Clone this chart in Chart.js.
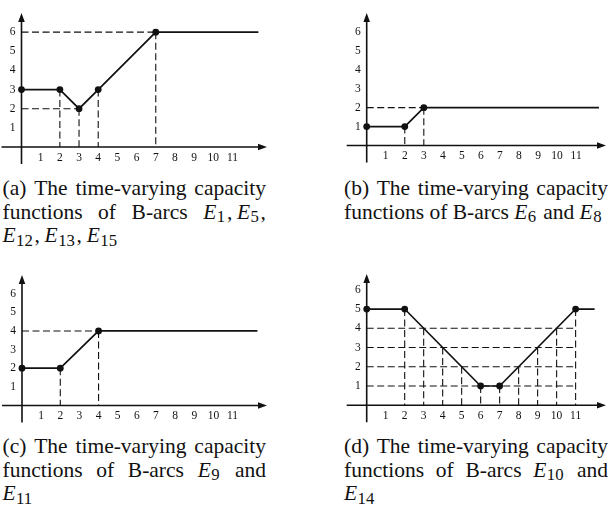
<!DOCTYPE html>
<html>
<head>
<meta charset="utf-8">
<script src="https://cdn.jsdelivr.net/npm/chart.js@4.4.1/dist/chart.umd.min.js"></script>
<style>
  html, body { margin: 0; padding: 0; background: #fff; }
  #page { position: relative; width: 610px; height: 509px; overflow: hidden; background: #fff; }
  canvas.panel { position: absolute; }
  .caption {
    position: absolute;
    font-family: "Liberation Serif", "Times New Roman", serif;
    font-size: 21.5px;
    line-height: 23.5px;
    color: #111;
  }
  .caption .jl { display: flex; justify-content: space-between; column-gap: 0.2em; white-space: nowrap; }
  .caption .ll { white-space: nowrap; }
  .caption i { font-style: italic; padding-right: 0.02em; }
  .caption sub { font-size: 0.78em; vertical-align: -0.22em; line-height: 0; padding-right: 0.1em; }
  .caption .c { padding-right: 0.22em; }
</style>
</head>
<body>
<div id="page">
  <canvas id="chart-a" class="panel"></canvas>
  <canvas id="chart-b" class="panel"></canvas>
  <canvas id="chart-c" class="panel"></canvas>
  <canvas id="chart-d" class="panel"></canvas>

  <div class="caption" style="left:2.5px; top:177px; width:263.5px">
    <div class="jl"><span>(a)</span><span>The</span><span>time-varying</span><span>capacity</span></div>
    <div class="jl"><span>functions</span><span>of</span><span>B-arcs</span><span><i>E</i><sub>1</sub><span class="c">,</span><i>E</i><sub>5</sub>,</span></div>
    <div class="ll"><i>E</i><sub>12</sub><span class="c">,</span><i>E</i><sub>13</sub><span class="c">,</span><i>E</i><sub>15</sub></div>
  </div>
  <div class="caption" style="left:344px; top:177px; width:264px">
    <div class="jl"><span>(b)</span><span>The</span><span>time-varying</span><span>capacity</span></div>
    <div class="ll">functions of B-arcs <i>E</i><sub>6</sub> and <i>E</i><sub>8</sub></div>
  </div>
  <div class="caption" style="left:2.5px; top:435px; width:263.5px">
    <div class="jl"><span>(c)</span><span>The</span><span>time-varying</span><span>capacity</span></div>
    <div class="jl"><span>functions</span><span>of</span><span>B-arcs</span><span><i>E</i><sub>9</sub></span><span>and</span></div>
    <div class="ll"><i>E</i><sub>11</sub></div>
  </div>
  <div class="caption" style="left:344px; top:435px; width:264px">
    <div class="jl"><span>(d)</span><span>The</span><span>time-varying</span><span>capacity</span></div>
    <div class="jl"><span>functions</span><span>of</span><span>B-arcs</span><span><i>E</i><sub>10</sub></span><span>and</span></div>
    <div class="ll"><i>E</i><sub>14</sub></div>
  </div>
</div>

<script>
// --- capacity functions: breakpoints (time, capacity); the last point is where the drawn line stops ---
const aTimes = [0, 2, 3, 4, 7, 12.35];
const aCaps = [3, 3, 2, 3, 6, 6];
const aDropTimes = [2, 3, 4, 7];
const aDropCaps = [3, 2, 3, 6];
const aLevelCaps = [6, 2];
const aLevelEnds = [7, 3];

const bTimes = [0, 2, 3, 12.2];
const bCaps = [1, 1, 2, 2];
const bDropTimes = [2, 3];
const bDropCaps = [1, 2];
const bLevelCaps = [2];
const bLevelEnds = [3];

const cTimes = [0, 2, 4, 12.3];
const cCaps = [2, 2, 4, 4];
const cDropTimes = [2, 4];
const cDropCaps = [2, 4];
const cLevelCaps = [4];
const cLevelEnds = [4];

const dTimes = [0, 2, 6, 7, 11, 12];
const dCaps = [5, 5, 1, 1, 5, 5];
const dDropTimes = [2, 3, 4, 5, 6, 7, 8, 9, 10, 11];
const dDropCaps = [5, 4, 3, 2, 1, 1, 2, 3, 4, 5];
const dLevelCaps = [4, 3, 2, 1];
const dLevelEnds = [11, 11, 11, 11];

// tick labels shared by all four plots
const timeTicks = [1, 2, 3, 4, 5, 6, 7, 8, 9, 10, 11];
const capTicks = [1, 2, 3, 4, 5, 6];

const ink = '#111';
const tickFont = { family: '"Liberation Serif", "Times New Roman", serif', size: 11.5 };

/** Draws both axes through the origin, with a short overhang and arrow heads. */
const arrowAxes = {
    id: 'arrowAxes',
    beforeDatasetsDraw(chart) {
        const { ctx, chartArea: area, scales: { x, y } } = chart;
        const x0 = x.getPixelForValue(0);
        const y0 = y.getPixelForValue(0);
        ctx.save();
        ctx.strokeStyle = ink;
        ctx.fillStyle = ink;
        ctx.lineWidth = 1.6;
        ctx.beginPath();
        ctx.moveTo(x0 - 20, y0);
        ctx.lineTo(area.right - 5, y0);
        ctx.moveTo(x0, y0 + 17);
        ctx.lineTo(x0, area.top + 5);
        ctx.stroke();
        ctx.beginPath();
        ctx.moveTo(area.right, y0);
        ctx.lineTo(area.right - 9, y0 - 3.3);
        ctx.lineTo(area.right - 9, y0 + 3.3);
        ctx.closePath();
        ctx.moveTo(x0, area.top);
        ctx.lineTo(x0 - 3.3, area.top + 9);
        ctx.lineTo(x0 + 3.3, area.top + 9);
        ctx.closePath();
        ctx.fill();
        ctx.restore();
    }
};

function dashed(points) {
    return {
        data: points,
        showLine: true,
        borderColor: ink,
        borderWidth: 1.1,
        borderDash: [7, 3.5],
        pointRadius: 0,
        clip: false
    };
}

function buildDatasets(times, caps, dropTimes, dropCaps, levelCaps, levelEnds) {
    const curve = {
        data: times.map((t, i) => ({ x: t, y: caps[i] })),
        showLine: true,
        borderColor: ink,
        borderWidth: 1.7,
        backgroundColor: ink,
        pointBackgroundColor: ink,
        pointBorderWidth: 0,
        pointRadius: times.map((t, i) => (i === times.length - 1 ? 0 : 3.4)),
        tension: 0,
        clip: false
    };
    const drops = dropTimes.map((t, i) => dashed([{ x: t, y: dropCaps[i] }, { x: t, y: 0 }]));
    const levels = levelCaps.map((c, i) => dashed([{ x: 0, y: c }, { x: levelEnds[i], y: c }]));
    // first dataset is painted last, so the curve and its dots stay on top
    return [curve, ...drops, ...levels];
}

function makePanel(canvasId, box, datasets) {
    const canvas = document.getElementById(canvasId);
    canvas.width = box.w;
    canvas.height = box.h;
    canvas.style.left = box.left + 'px';
    canvas.style.top = box.top + 'px';
    canvas.style.width = box.w + 'px';
    canvas.style.height = box.h + 'px';

    return new Chart(canvas.getContext('2d'), {
        type: 'scatter',
        data: { datasets },
        plugins: [arrowAxes],
        options: {
            responsive: false,
            animation: false,
            events: [],
            layout: { padding: { left: 0, top: box.area.t, right: box.w - box.area.r, bottom: 0 } },
            scales: {
                x: {
                    type: 'linear',
                    min: 0,
                    max: box.xMax,
                    grid: { display: false, drawTicks: false },
                    border: { display: false },
                    afterBuildTicks: (scale) => { scale.ticks = timeTicks.map(v => ({ value: v })); },
                    afterFit: (scale) => { scale.height = box.h - box.area.b; },
                    ticks: { color: ink, font: tickFont, padding: 4, maxRotation: 0, autoSkip: false }
                },
                y: {
                    type: 'linear',
                    min: 0,
                    max: box.yMax,
                    grid: { display: false, drawTicks: false },
                    border: { display: false },
                    afterBuildTicks: (scale) => { scale.ticks = capTicks.map(v => ({ value: v })); },
                    afterFit: (scale) => { scale.width = box.area.l; },
                    ticks: { color: ink, font: tickFont, padding: 6, autoSkip: false }
                }
            },
            plugins: {
                legend: { display: false },
                tooltip: { enabled: false },
                title: { display: false }
            }
        }
    });
}

makePanel('chart-a',
    { left: 0, top: 0, w: 280, h: 175, area: { l: 21.5, t: 13, r: 267, b: 147 }, xMax: 12.8, yMax: 7 },
    buildDatasets(aTimes, aCaps, aDropTimes, aDropCaps, aLevelCaps, aLevelEnds));
makePanel('chart-b',
    { left: 330, top: 0, w: 280, h: 175, area: { l: 36.7, t: 13, r: 278, b: 145.5 }, xMax: 12.57, yMax: 7 },
    buildDatasets(bTimes, bCaps, bDropTimes, bDropCaps, bLevelCaps, bLevelEnds));
makePanel('chart-c',
    { left: 0, top: 258, w: 280, h: 172, area: { l: 22, t: 17, r: 267, b: 147.5 }, xMax: 12.8, yMax: 7 },
    buildDatasets(cTimes, cCaps, cDropTimes, cDropCaps, cLevelCaps, cLevelEnds));
makePanel('chart-d',
    { left: 330, top: 258, w: 280, h: 172, area: { l: 36.7, t: 16, r: 278, b: 147.25 }, xMax: 12.6, yMax: 6.82 },
    buildDatasets(dTimes, dCaps, dDropTimes, dDropCaps, dLevelCaps, dLevelEnds));
</script>
</body>
</html>
